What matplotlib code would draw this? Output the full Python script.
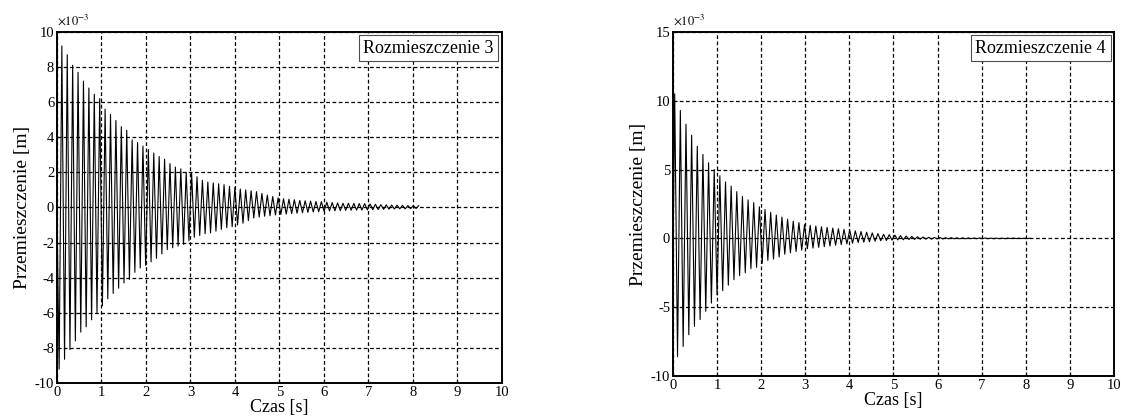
import numpy as np
import matplotlib
matplotlib.use('Agg')
import matplotlib.pyplot as plt

plt.rcParams['font.family'] = ['Liberation Serif', 'DejaVu Serif']
plt.rcParams['mathtext.fontset'] = 'stix'
plt.rcParams['axes.unicode_minus'] = False

# Rozmieszczenie 3: extrema of each cycle (x 1e-3 m)
t0_3 = 0.11
period_3 = 0.1215
peaks_3 = [9.2, 8.7, 8.1, 7.7, 7.2, 6.8, 6.45, 6.2, 5.6, 5.3, 4.95, 4.6, 4.4, 3.85,
           3.7, 3.5, 3.3, 3.1, 2.9, 2.75, 2.5, 2.3, 2.2, 2.0, 1.95, 1.75, 1.55, 1.45,
           1.4, 1.35, 1.3, 1.2, 1.15, 1.05, 1.0, 0.95, 0.9, 0.8, 0.7, 0.62, 0.55,
           0.5, 0.47, 0.44, 0.4, 0.38, 0.36, 0.34, 0.33, 0.3, 0.28, 0.26, 0.24,
           0.24, 0.23, 0.22, 0.22, 0.2, 0.18, 0.16, 0.15, 0.14, 0.13, 0.12, 0.11,
           0.1, 0.1]
troughs_3 = [-9.2, -8.65, -8.1, -7.6, -7.1, -6.8, -6.4, -6.0, -5.6, -5.2, -4.9, -4.6,
             -4.3, -4.1, -3.7, -3.45, -3.3, -3.1, -2.9, -2.65, -2.4, -2.3, -2.2, -2.1,
             -1.9, -1.7, -1.6, -1.5, -1.45, -1.35, -1.25, -1.15, -1.1, -1.0, -0.9,
             -0.75, -0.6, -0.55, -0.5, -0.47, -0.43, -0.4, -0.38, -0.35, -0.33, -0.3,
             -0.28, -0.26, -0.24, -0.22, -0.2, -0.19, -0.18, -0.17, -0.16, -0.15,
             -0.15, -0.14, -0.13, -0.12, -0.11, -0.1, -0.09, -0.08, -0.08, -0.07,
             -0.06]

# Rozmieszczenie 4
t0_4 = 0.04
period_4 = 0.128
peaks_4 = [10.5, 9.3, 8.3, 7.5, 6.7, 6.1, 5.5, 5.0, 4.55, 4.1, 3.8, 3.4, 3.05, 2.8,
           2.6, 2.3, 2.1, 1.9, 1.7, 1.55, 1.4, 1.25, 1.15, 1.0, 0.95, 0.9, 0.85, 0.8,
           0.75, 0.7, 0.65, 0.6, 0.55, 0.5, 0.45, 0.4, 0.35, 0.3, 0.27, 0.24, 0.2,
           0.17, 0.14, 0.12, 0.1, 0.08, 0.07, 0.06, 0.05, 0.05, 0.04, 0.04, 0.03,
           0.03, 0.03, 0.03, 0.02, 0.02, 0.02, 0.02, 0.02, 0.01, 0.01, 0.01]
troughs_4 = [-9.8, -8.6, -7.85, -7.0, -6.4, -5.9, -5.3, -4.7, -4.1, -3.8, -3.4, -3.0,
             -2.7, -2.5, -2.2, -2.1, -1.8, -1.6, -1.5, -1.35, -1.15, -1.05, -0.95,
             -0.85, -0.75, -0.7, -0.65, -0.6, -0.55, -0.5, -0.45, -0.4, -0.35, -0.3,
             -0.27, -0.24, -0.2, -0.17, -0.15, -0.13, -0.11, -0.1, -0.08, -0.07,
             -0.06, -0.05, -0.05, -0.04, -0.04, -0.03, -0.03, -0.03, -0.03, -0.02,
             -0.02, -0.02, -0.02, -0.02, -0.02, -0.02, -0.01, -0.01, -0.01, -0.01]

xticks = list(range(0, 11))
yticks_3 = [-10, -8, -6, -4, -2, 0, 2, 4, 6, 8, 10]
yticks_4 = [-10, -5, 0, 5, 10, 15]
labels = ['Rozmieszczenie 3', 'Rozmieszczenie 4']


def zigzag(t0, period, peaks, troughs):
    n = min(len(peaks), len(troughs))
    t = [0.0]
    y = [0.0]
    for i in range(n):
        t += [t0 + i*period - period/2, t0 + i*period]
        y += [troughs[i], peaks[i]]
    return np.array(t), np.array(y)*1e-3


fig = plt.figure(figsize=(11.21, 4.19), dpi=100)
ax1 = fig.add_axes([0.0508, 0.0859, 0.397, 0.838])
ax2 = fig.add_axes([0.6003, 0.1026, 0.3934, 0.821])

series = [(t0_3, period_3, peaks_3, troughs_3, yticks_3),
          (t0_4, period_4, peaks_4, troughs_4, yticks_4)]

for ax, (t0, per, pk, tr, yt), lab in zip([ax1, ax2], series, labels):
    t, y = zigzag(t0, per, pk, tr)
    ax.plot(t, y, color='k', lw=0.8, zorder=3)
    ax.set_xlim(0, 10)
    ax.set_ylim(yt[0]*1e-3, yt[-1]*1e-3)
    ax.set_xticks(xticks)
    ax.set_yticks([v*1e-3 for v in yt])
    ax.set_yticklabels([str(v) for v in yt])
    ax.grid(True, color='k', ls=(0, (3, 2)), lw=0.9)
    ax.tick_params(direction='in', labelsize=10.5, length=3, pad=2)
    for s in ax.spines.values():
        s.set_linewidth(1.4)
    ax.set_xlabel('Czas [s]', fontsize=13, labelpad=0)
    ax.set_ylabel('Przemieszczenie [m]', fontsize=14, labelpad=3)
    ax.text(0.0, 1.012, r'$\times10^{-3}$', transform=ax.transAxes, fontsize=9,
            ha='left', va='bottom')
    ax.text(0.982, 0.978, lab, transform=ax.transAxes, fontsize=13, ha='right',
            va='top', zorder=5,
            bbox=dict(boxstyle='square,pad=0.25', facecolor='white', edgecolor='0.3', lw=0.8))

fig.savefig('out.png', dpi=100)
